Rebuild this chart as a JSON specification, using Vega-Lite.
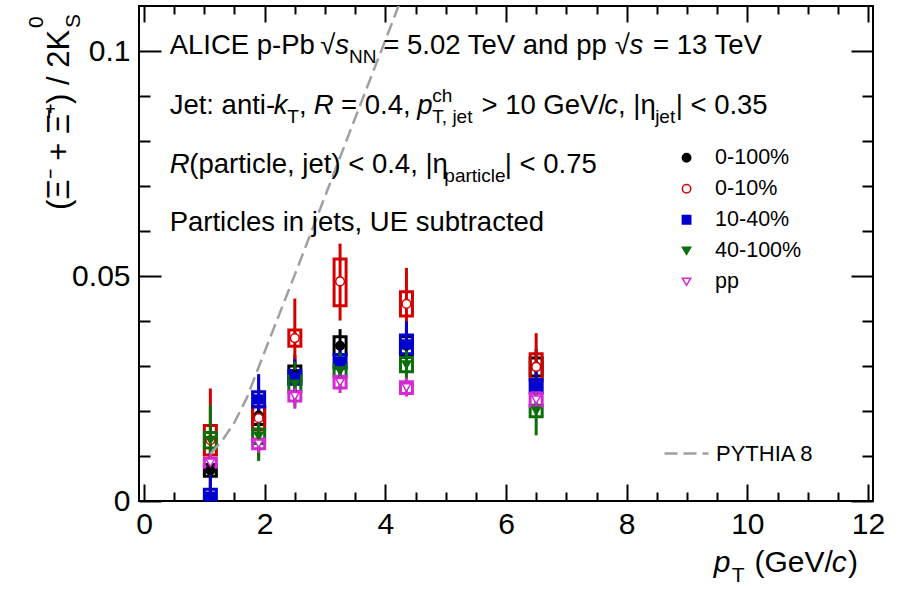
{
  "$schema": "https://vega.github.io/schema/vega-lite/v6.json",
  "width": 734,
  "height": 495,
  "autosize": {"type": "none"},
  "padding": {"left": 139, "top": 6, "right": 40, "bottom": 89},
  "background": "white",
  "config": {
    "view": {"stroke": "black", "strokeWidth": 2},
    "font": "Liberation Sans",
    "text": {"font": "Liberation Sans", "color": "black"}
  },
  "datasets": {
    "pts": [
      {"series":"0-100%","x":1.1,"y":0.0068,"elo":0.0028,"ehi":0.0108,"slo":0.0055,"shi":0.0081},
      {"series":"0-10%","x":1.1,"y":0.0135,"elo":0.002,"ehi":0.025,"slo":0.0102,"shi":0.0168},
      {"series":"10-40%","x":1.1,"y":0.001,"elo":0,"ehi":0.0057,"slo":-0.0005,"shi":0.0026},
      {"series":"40-100%","x":1.1,"y":0.0135,"elo":0.0057,"ehi":0.0213,"slo":0.0118,"shi":0.0152},
      {"series":"pp","x":1.1,"y":0.0085,"elo":0.0065,"ehi":0.0105,"slo":0.0075,"shi":0.0095},
      {"series":"0-100%","x":1.9,"y":0.019,"elo":0.013,"ehi":0.025,"slo":0.017,"shi":0.021},
      {"series":"0-10%","x":1.9,"y":0.0184,"elo":0.0094,"ehi":0.0274,"slo":0.0158,"shi":0.021},
      {"series":"10-40%","x":1.9,"y":0.0226,"elo":0.017,"ehi":0.0282,"slo":0.0209,"shi":0.0243},
      {"series":"40-100%","x":1.9,"y":0.0144,"elo":0.0089,"ehi":0.0199,"slo":0.0128,"shi":0.016},
      {"series":"pp","x":1.9,"y":0.0127,"elo":0.0107,"ehi":0.0147,"slo":0.0116,"shi":0.0138},
      {"series":"0-100%","x":2.5,"y":0.028,"elo":0.0235,"ehi":0.0325,"slo":0.026,"shi":0.03},
      {"series":"0-10%","x":2.5,"y":0.0362,"elo":0.0274,"ehi":0.045,"slo":0.0344,"shi":0.038},
      {"series":"10-40%","x":2.5,"y":0.0275,"elo":0.0235,"ehi":0.0315,"slo":0.026,"shi":0.029},
      {"series":"40-100%","x":2.5,"y":0.026,"elo":0.021,"ehi":0.031,"slo":0.0242,"shi":0.0278},
      {"series":"pp","x":2.5,"y":0.0233,"elo":0.0205,"ehi":0.0261,"slo":0.0222,"shi":0.0244},
      {"series":"0-100%","x":3.25,"y":0.0345,"elo":0.0308,"ehi":0.0382,"slo":0.0325,"shi":0.0365},
      {"series":"0-10%","x":3.25,"y":0.0488,"elo":0.0401,"ehi":0.0572,"slo":0.0434,"shi":0.0538},
      {"series":"10-40%","x":3.25,"y":0.031,"elo":0.027,"ehi":0.035,"slo":0.0295,"shi":0.0325},
      {"series":"40-100%","x":3.25,"y":0.0289,"elo":0.0249,"ehi":0.0329,"slo":0.0276,"shi":0.0302},
      {"series":"pp","x":3.25,"y":0.0264,"elo":0.024,"ehi":0.0288,"slo":0.0251,"shi":0.0277},
      {"series":"0-100%","x":4.35,"y":0.0345,"elo":0.0305,"ehi":0.0385,"slo":0.0325,"shi":0.0365},
      {"series":"0-10%","x":4.35,"y":0.0438,"elo":0.0358,"ehi":0.0518,"slo":0.0411,"shi":0.0465},
      {"series":"10-40%","x":4.35,"y":0.0348,"elo":0.0298,"ehi":0.0399,"slo":0.0327,"shi":0.0369},
      {"series":"40-100%","x":4.35,"y":0.0303,"elo":0.0258,"ehi":0.0348,"slo":0.0287,"shi":0.0319},
      {"series":"pp","x":4.35,"y":0.0252,"elo":0.0232,"ehi":0.0274,"slo":0.0239,"shi":0.0265},
      {"series":"0-100%","x":6.5,"y":0.0298,"elo":0.0258,"ehi":0.0338,"slo":0.0278,"shi":0.0318},
      {"series":"0-10%","x":6.5,"y":0.0298,"elo":0.0223,"ehi":0.0373,"slo":0.0269,"shi":0.0327},
      {"series":"10-40%","x":6.5,"y":0.0255,"elo":0.0215,"ehi":0.0295,"slo":0.024,"shi":0.027},
      {"series":"40-100%","x":6.5,"y":0.02,"elo":0.0146,"ehi":0.0254,"slo":0.0187,"shi":0.0213},
      {"series":"pp","x":6.5,"y":0.0225,"elo":0.0195,"ehi":0.0255,"slo":0.021,"shi":0.024}
    ],
    "pythia": [
      {"model":"PYTHIA 8","x":1.1,"y":0.0105},
      {"model":"PYTHIA 8","x":1.3,"y":0.0135},
      {"model":"PYTHIA 8","x":1.5,"y":0.0175},
      {"model":"PYTHIA 8","x":1.7,"y":0.0228},
      {"model":"PYTHIA 8","x":2.0,"y":0.0332},
      {"model":"PYTHIA 8","x":2.5,"y":0.0503},
      {"model":"PYTHIA 8","x":3.0,"y":0.0677},
      {"model":"PYTHIA 8","x":3.5,"y":0.0851},
      {"model":"PYTHIA 8","x":4.0,"y":0.1024},
      {"model":"PYTHIA 8","x":4.3,"y":0.1128}
    ],
    "txtNormal": [
      {"x":0.4251,"y":0.09927,"t":"ALICE p-Pb"},
      {"x":2.923,"y":0.09927,"t":"√"},
      {"x":3.966,"y":0.09927,"t":"= 5.02 TeV and pp"},
      {"x":7.802,"y":0.09927,"t":"√"},
      {"x":8.436,"y":0.09927,"t":"= 13 TeV"},
      {"x":0.4251,"y":0.08611,"t":"Jet: anti-"},
      {"x":2.567,"y":0.08611,"t":","},
      {"x":3.266,"y":0.08611,"t":"= 0.4,"},
      {"x":5.593,"y":0.08611,"t":"> 10 GeV/"},
      {"x":7.856,"y":0.08611,"t":", |η"},
      {"x":8.812,"y":0.08611,"t":"| < 0.35"},
      {"x":0.7504,"y":0.07296,"t":"(particle, jet) < 0.4, |η"},
      {"x":5.979,"y":0.07296,"t":"| < 0.75"},
      {"x":0.4251,"y":0.06,"t":"Particles in jets, UE subtracted"}
    ],
    "txtItalic": [
      {"x":3.170,"y":0.09927,"t":"s"},
      {"x":8.049,"y":0.09927,"t":"s"},
      {"x":2.150,"y":0.08611,"t":"k"},
      {"x":2.815,"y":0.08611,"t":"R"},
      {"x":4.529,"y":0.08611,"t":"p"},
      {"x":7.630,"y":0.08611,"t":"c"},
      {"x":0.4251,"y":0.07296,"t":"R"}
    ],
    "txtSmall": [
      {"x":3.397,"y":0.09727,"t":"NN"},
      {"x":2.375,"y":0.08411,"t":"T"},
      {"x":4.779,"y":0.08867,"t":"ch"},
      {"x":4.779,"y":0.08411,"t":"T, jet"},
      {"x":8.472,"y":0.08411,"t":"jet"},
      {"x":4.978,"y":0.07096,"t":"particle"}
    ],
    "xtNormal": [
      {"x":10.119,"y":-0.01571,"t":"(GeV/"},
      {"x":11.67,"y":-0.01571,"t":")"}
    ],
    "xtItalic": [
      {"x":9.445,"y":-0.01571,"t":"p"},
      {"x":11.40,"y":-0.01571,"t":"c"}
    ],
    "xtSmall": [
      {"x":9.74,"y":-0.01800,"t":"T"}
    ],
    "yTitleMain": [
      {"x":-1.2425,"y":0.1047,"t":"(Ξ⁻ + Ξ̄⁺) / 2K"}
    ],
    "yTitleSmall": [
      {"x":-1.668,"y":0.1051,"t":"0"},
      {"x":-1.063,"y":0.1051,"t":"S"}
    ]
  },
  "layer": [
    {
      "data": {"name": "pts"},
      "mark": {"type": "bar", "size": 12, "fillOpacity": 0, "strokeWidth": 3, "clip": true},
      "encoding": {
        "x": {"field": "x", "type": "quantitative", "scale": {"domain": [0, 12], "nice": false, "zero": false},
          "axis": {"orient": "bottom", "values": [0,0.5,1,1.5,2,2.5,3,3.5,4,4.5,5,5.5,6,6.5,7,7.5,8,8.5,9,9.5,10,10.5,11,11.5,12],
            "domain": false, "grid": false, "title": null, "tickColor": "black", "tickWidth": 2,
            "tickSize": {"condition": {"test": "datum.value % 2 === 0", "value": -17}, "value": -9},
            "labelExpr": "datum.value % 2 === 0 ? '' + datum.value : ''",
            "labelFont": "Liberation Sans", "labelFontSize": 30, "labelColor": "black", "labelPadding": 25,
            "labelAlign": "center", "labelFlush": false, "labelOverlap": false}},
        "y": {"field": "slo", "type": "quantitative", "scale": {"domain": [0, 0.11], "nice": false, "zero": false},
          "axis": {"orient": "left", "values": [0,0.01,0.02,0.03,0.04,0.05,0.06,0.07,0.08,0.09,0.1],
            "domain": false, "grid": false, "title": null, "tickColor": "black", "tickWidth": 2,
            "tickSize": {"condition": {"test": "abs(datum.value*20 - round(datum.value*20)) < 0.000001", "value": -22}, "value": -11},
            "labelExpr": "datum.value < 0.000001 ? '0' : (abs(datum.value - 0.05) < 0.000001 ? '0.05' : (abs(datum.value - 0.1) < 0.000001 ? '0.1' : ''))",
            "labelFont": "Liberation Sans", "labelFontSize": 30, "labelColor": "black", "labelPadding": 31,
            "labelFlush": false, "labelOverlap": false}},
        "y2": {"field": "shi"},
        "stroke": {"field": "series", "type": "nominal",
          "scale": {"domain": ["0-100%","0-10%","10-40%","40-100%","pp"], "range": ["#000000","#d40000","#0000d0","#0a6e0a","#d42ad4"]}}
      }
    },
    {
      "data": {"name": "pts"},
      "mark": {"type": "rule", "strokeWidth": 3, "clip": true},
      "encoding": {
        "x": {"field": "x", "type": "quantitative", "scale": {"domain": [0, 12], "nice": false, "zero": false},
          "axis": {"orient": "top", "values": [0,0.5,1,1.5,2,2.5,3,3.5,4,4.5,5,5.5,6,6.5,7,7.5,8,8.5,9,9.5,10,10.5,11,11.5,12],
            "domain": false, "grid": false, "title": null, "labels": false, "tickColor": "black", "tickWidth": 2,
            "tickSize": {"condition": {"test": "datum.value % 2 === 0", "value": -16}, "value": -8}}},
        "y": {"field": "elo", "type": "quantitative", "scale": {"domain": [0, 0.11], "nice": false, "zero": false},
          "axis": {"orient": "right", "values": [0,0.01,0.02,0.03,0.04,0.05,0.06,0.07,0.08,0.09,0.1],
            "domain": false, "grid": false, "title": null, "labels": false, "tickColor": "black", "tickWidth": 2,
            "tickSize": {"condition": {"test": "abs(datum.value*20 - round(datum.value*20)) < 0.000001", "value": -22}, "value": -11}}},
        "y2": {"field": "ehi"},
        "stroke": {"field": "series", "type": "nominal"}
      }
    },
    {
      "data": {"name": "pythia"},
      "mark": {"type": "line", "color": "#a0a0a0", "strokeWidth": 2.5, "clip": true},
      "encoding": {
        "x": {"field": "x", "type": "quantitative", "scale": {"domain": [0, 12], "nice": false, "zero": false}, "axis": null},
        "y": {"field": "y", "type": "quantitative", "scale": {"domain": [0, 0.11], "nice": false, "zero": false}, "axis": null},
        "strokeDash": {"field": "model", "type": "nominal", "scale": {"range": [[13, 6]]},
          "legend": {"orient": "none", "legendX": 524, "legendY": 424, "title": null, "padding": 0,
            "symbolSize": 1936, "symbolStrokeColor": "#a0a0a0", "symbolStrokeWidth": 2.5,
            "labelFont": "Liberation Sans", "labelFontSize": 22, "labelColor": "black", "labelOffset": 6}}
      }
    },
    {
      "data": {"name": "pts"},
      "mark": {"type": "point", "size": 75, "strokeWidth": 1.5, "opacity": 1, "fillOpacity": 1},
      "encoding": {
        "x": {"field": "x", "type": "quantitative", "scale": {"domain": [0, 12], "nice": false, "zero": false}, "axis": null},
        "y": {"field": "y", "type": "quantitative", "scale": {"domain": [0, 0.11], "nice": false, "zero": false}, "axis": null},
        "shape": {"field": "series", "type": "nominal",
          "scale": {"domain": ["0-100%","0-10%","10-40%","40-100%","pp"], "range": ["circle","circle","square","triangle-down","triangle-down"]},
          "legend": {"orient": "none", "legendX": 536.8, "legendY": 141, "title": null, "padding": 0,
            "symbolSize": 70, "symbolStrokeWidth": 1.5, "rowPadding": 8, "labelOffset": 17.8,
            "labelFont": "Liberation Sans", "labelFontSize": 21.5, "labelColor": "black"}},
        "fill": {"field": "series", "type": "nominal",
          "scale": {"domain": ["0-100%","0-10%","10-40%","40-100%","pp"], "range": ["#000000","#ffffff","#0000d0","#0a6e0a","#ffffff"]},
          "legend": {"orient": "none", "legendX": 536.8, "legendY": 141, "title": null, "padding": 0,
            "symbolSize": 70, "symbolStrokeWidth": 1.5, "rowPadding": 8, "labelOffset": 17.8,
            "labelFont": "Liberation Sans", "labelFontSize": 21.5, "labelColor": "black"}},
        "stroke": {"field": "series", "type": "nominal",
          "legend": {"orient": "none", "legendX": 536.8, "legendY": 141, "title": null, "padding": 0,
            "symbolSize": 70, "symbolStrokeWidth": 1.5, "rowPadding": 8, "labelOffset": 17.8,
            "labelFont": "Liberation Sans", "labelFontSize": 21.5, "labelColor": "black"}}
      }
    },
    {
      "data": {"name": "txtNormal"},
      "mark": {"type": "text", "align": "left", "baseline": "alphabetic", "fontSize": 27.5, "font": "Liberation Sans", "color": "black"},
      "encoding": {
        "x": {"field": "x", "type": "quantitative", "scale": {"domain": [0, 12], "nice": false, "zero": false}, "axis": null},
        "y": {"field": "y", "type": "quantitative", "scale": {"domain": [0, 0.11], "nice": false, "zero": false}, "axis": null},
        "text": {"field": "t"}
      }
    },
    {
      "data": {"name": "txtItalic"},
      "mark": {"type": "text", "align": "left", "baseline": "alphabetic", "fontSize": 27.5, "fontStyle": "italic", "font": "Liberation Sans", "color": "black"},
      "encoding": {
        "x": {"field": "x", "type": "quantitative", "scale": {"domain": [0, 12], "nice": false, "zero": false}, "axis": null},
        "y": {"field": "y", "type": "quantitative", "scale": {"domain": [0, 0.11], "nice": false, "zero": false}, "axis": null},
        "text": {"field": "t"}
      }
    },
    {
      "data": {"name": "txtSmall"},
      "mark": {"type": "text", "align": "left", "baseline": "alphabetic", "fontSize": 19, "font": "Liberation Sans", "color": "black"},
      "encoding": {
        "x": {"field": "x", "type": "quantitative", "scale": {"domain": [0, 12], "nice": false, "zero": false}, "axis": null},
        "y": {"field": "y", "type": "quantitative", "scale": {"domain": [0, 0.11], "nice": false, "zero": false}, "axis": null},
        "text": {"field": "t"}
      }
    },
    {
      "data": {"name": "xtNormal"},
      "mark": {"type": "text", "align": "left", "baseline": "alphabetic", "fontSize": 30, "font": "Liberation Sans", "color": "black"},
      "encoding": {
        "x": {"field": "x", "type": "quantitative", "scale": {"domain": [0, 12], "nice": false, "zero": false}, "axis": null},
        "y": {"field": "y", "type": "quantitative", "scale": {"domain": [0, 0.11], "nice": false, "zero": false}, "axis": null},
        "text": {"field": "t"}
      }
    },
    {
      "data": {"name": "xtItalic"},
      "mark": {"type": "text", "align": "left", "baseline": "alphabetic", "fontSize": 30, "fontStyle": "italic", "font": "Liberation Sans", "color": "black"},
      "encoding": {
        "x": {"field": "x", "type": "quantitative", "scale": {"domain": [0, 12], "nice": false, "zero": false}, "axis": null},
        "y": {"field": "y", "type": "quantitative", "scale": {"domain": [0, 0.11], "nice": false, "zero": false}, "axis": null},
        "text": {"field": "t"}
      }
    },
    {
      "data": {"name": "xtSmall"},
      "mark": {"type": "text", "align": "left", "baseline": "alphabetic", "fontSize": 21, "font": "Liberation Sans", "color": "black"},
      "encoding": {
        "x": {"field": "x", "type": "quantitative", "scale": {"domain": [0, 12], "nice": false, "zero": false}, "axis": null},
        "y": {"field": "y", "type": "quantitative", "scale": {"domain": [0, 0.11], "nice": false, "zero": false}, "axis": null},
        "text": {"field": "t"}
      }
    },
    {
      "data": {"name": "yTitleMain"},
      "mark": {"type": "text", "align": "right", "baseline": "alphabetic", "angle": 270, "fontSize": 31, "font": "Liberation Sans", "color": "black"},
      "encoding": {
        "x": {"field": "x", "type": "quantitative", "scale": {"domain": [0, 12], "nice": false, "zero": false}, "axis": null},
        "y": {"field": "y", "type": "quantitative", "scale": {"domain": [0, 0.11], "nice": false, "zero": false}, "axis": null},
        "text": {"field": "t"}
      }
    },
    {
      "data": {"name": "yTitleSmall"},
      "mark": {"type": "text", "align": "left", "baseline": "alphabetic", "angle": 270, "fontSize": 21, "font": "Liberation Sans", "color": "black"},
      "encoding": {
        "x": {"field": "x", "type": "quantitative", "scale": {"domain": [0, 12], "nice": false, "zero": false}, "axis": null},
        "y": {"field": "y", "type": "quantitative", "scale": {"domain": [0, 0.11], "nice": false, "zero": false}, "axis": null},
        "text": {"field": "t"}
      }
    }
  ],
  "resolve": {"axis": {"x": "independent", "y": "independent"}}
}
